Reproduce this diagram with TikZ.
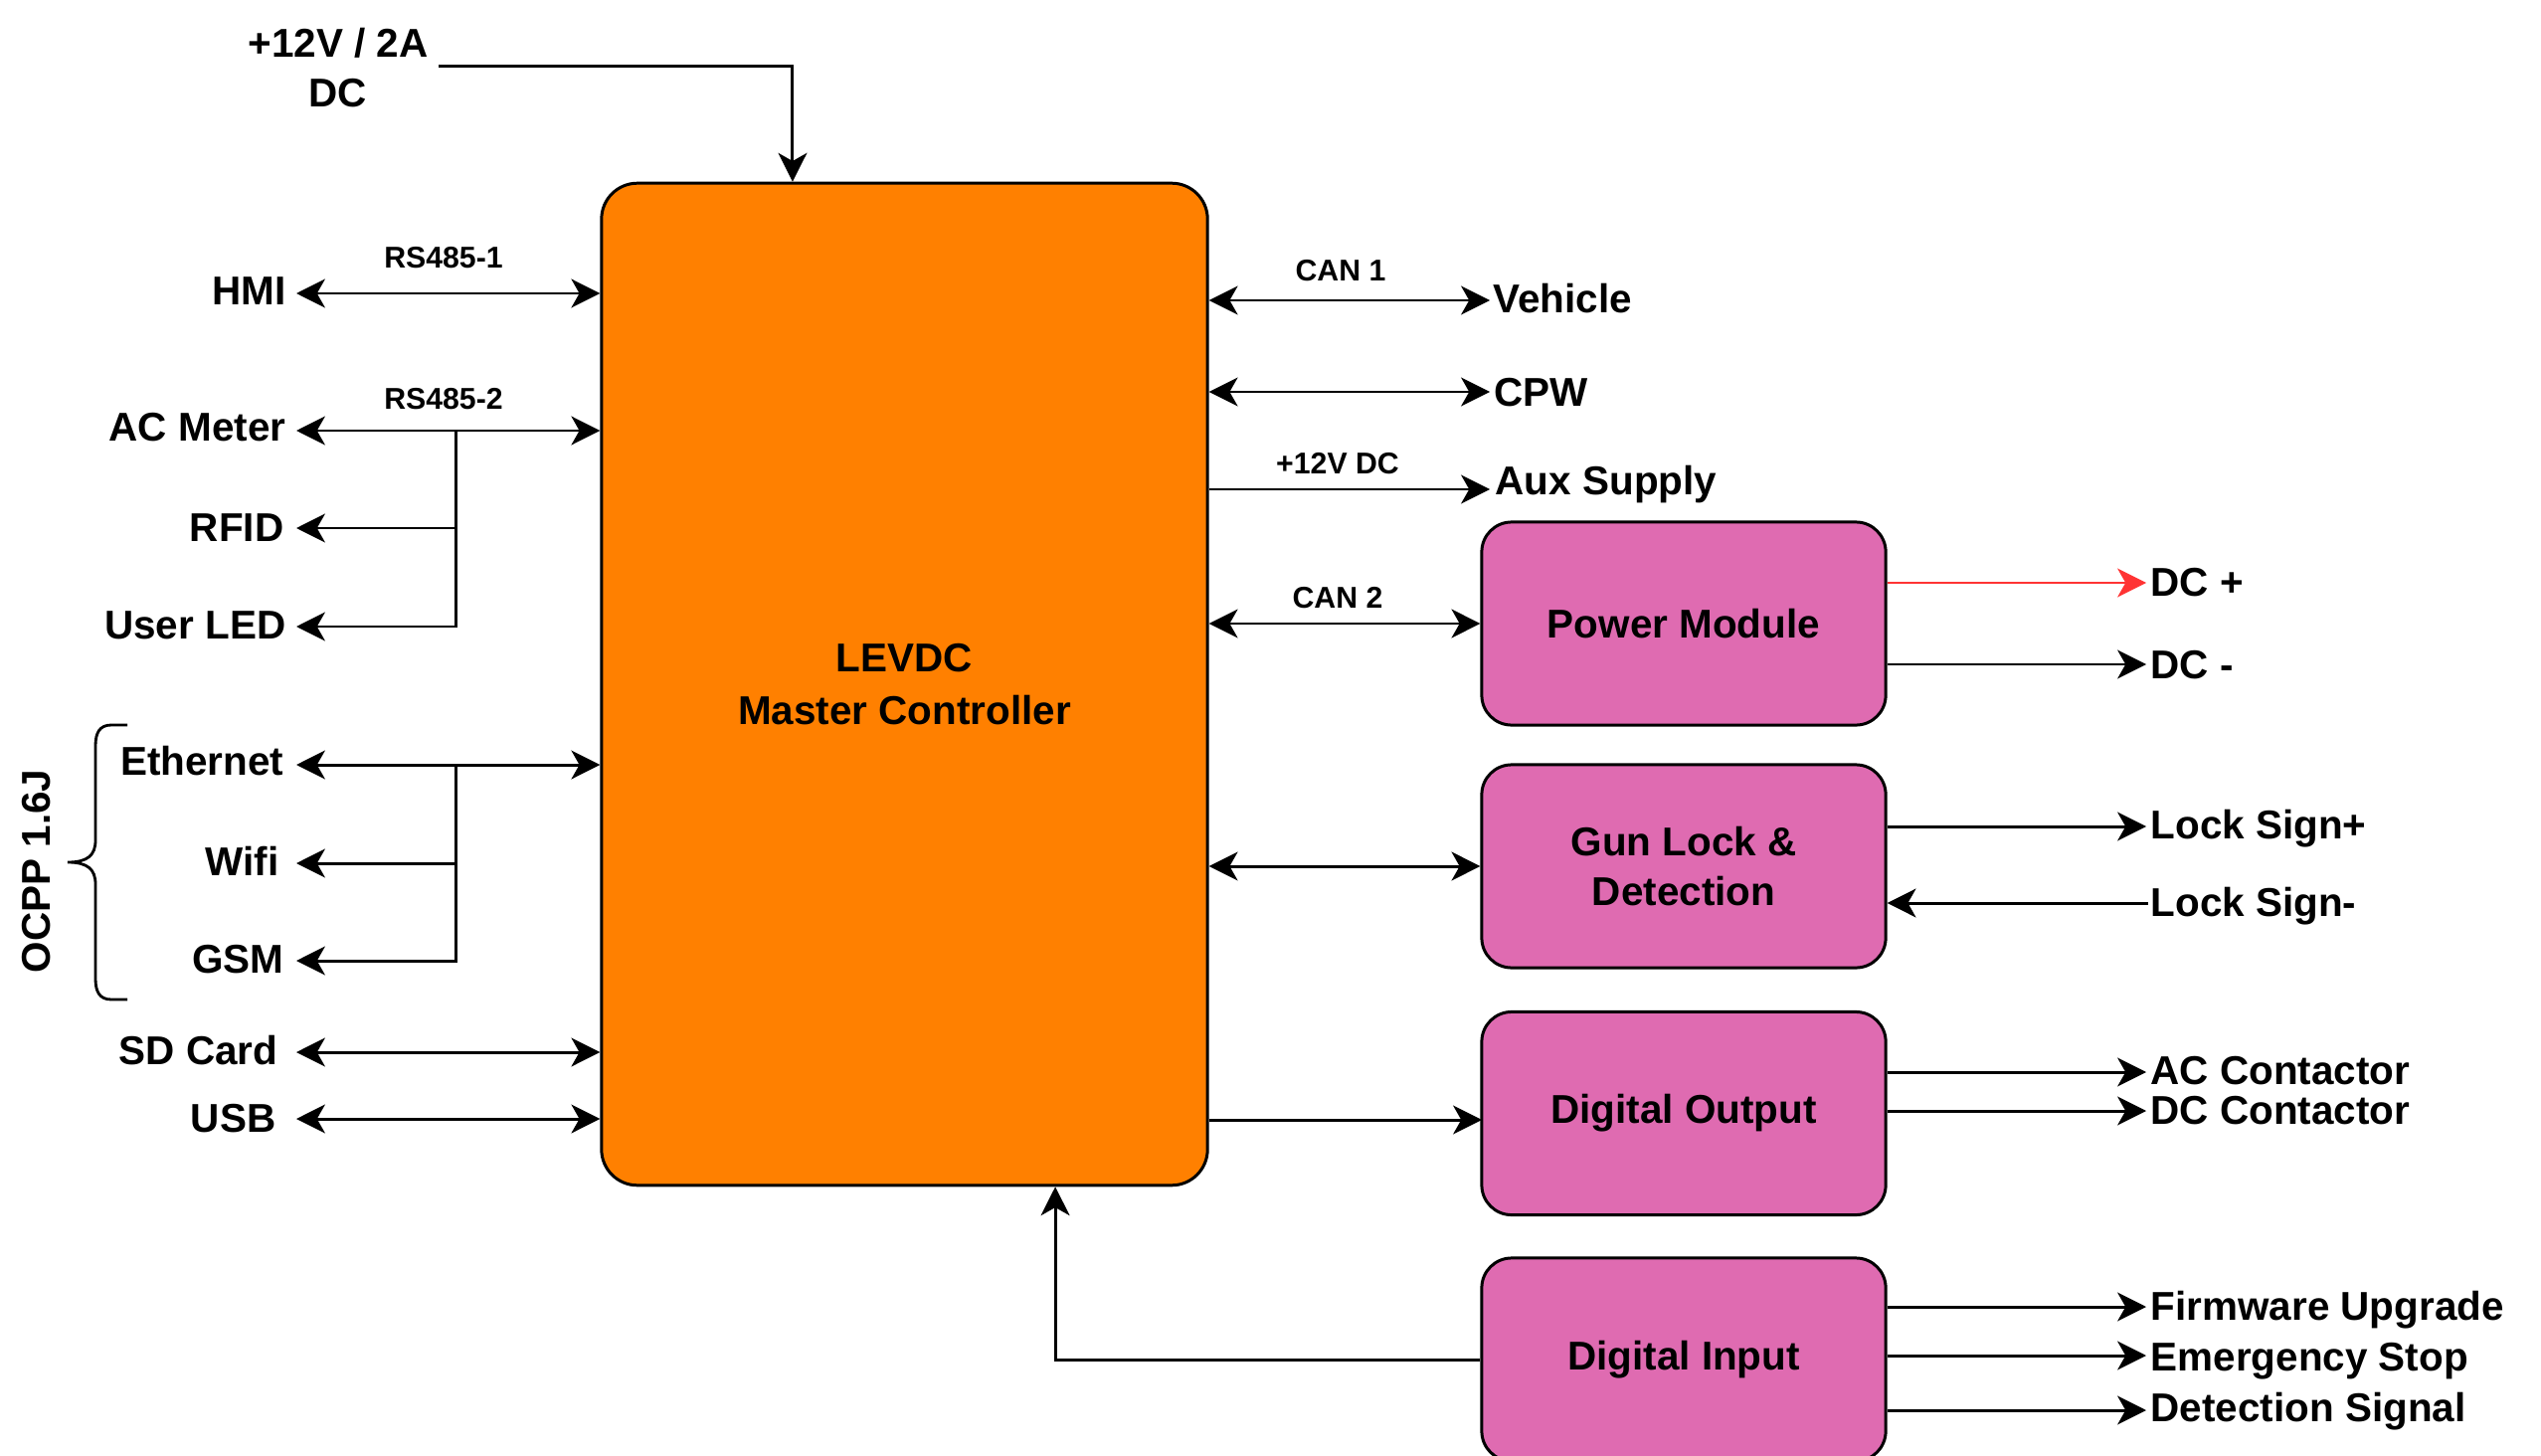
\documentclass[tikz,border=0pt]{standalone}
\usepackage{fontspec}
\setmainfont{Liberation Sans}
\usetikzlibrary{arrows.meta}

\definecolor{ctrlorange}{HTML}{FF8000}
\definecolor{modpink}{HTML}{DF6BB1}
\definecolor{dcred}{HTML}{FF3333}

\newcommand\lblfont{\fontsize{11.5}{14.2}\selectfont\bfseries}
\newcommand\ctrlfont{\fontsize{11.5}{15.1}\selectfont\bfseries}
\newcommand\tinyfont{\fontsize{8.6}{10}\selectfont\bfseries}

\begin{document}
\begin{tikzpicture}[x=0.01cm, y=-0.01cm,
  >={Stealth[length=8.2pt,width=8.2pt,inset=2.3pt]},
  wire/.style={line width=0.85pt, draw=black},
  lbl/.style={font=\lblfont, inner sep=0pt, text height=8.2pt, text depth=0pt},
  lbltwo/.style={font=\lblfont, inner sep=0pt, align=center},
  buslbl/.style={font=\tinyfont, inner sep=0pt, text height=6.2pt, text depth=0pt},
  ctrlbox/.style={draw, line width=0.85pt, fill=ctrlorange, rounded corners=0.36cm,
    minimum width=6.09cm, minimum height=10.07cm, align=center, font=\ctrlfont},
  modbox/.style={draw, line width=0.85pt, fill=modpink, rounded corners=0.3cm,
    minimum width=4.06cm, minimum height=2.04cm, align=center, font=\lblfont}
]
\useasboundingbox (0,0) rectangle (2555,1464);
\clip (0,0) rectangle (2555,1464);

% ---------- blocks ----------
\node[ctrlbox] (mc) at (909.5,688) {LEVDC\\Master Controller};
\node[modbox] (pm)   at (1693,627)    {Power Module};
\node[modbox] (gl)   at (1693,871)    {Gun Lock \&\\Detection};
\node[modbox] (dout) at (1693,1119.5) {Digital Output};
\node[modbox] (din)  at (1693,1367)   {Digital Input};

% ---------- supply input ----------
\node[lbltwo] (pwr) at (340,68) {+12V / 2A\\DC};
\coordinate (pwrIn) at (441,67);
\draw[wire,->] (pwrIn) -| ([xshift=-1.125cm]mc.north);

% ---------- left-hand peripherals ----------
\coordinate (hmiE)  at (298,295);
\coordinate (acmE)  at (298,433);
\coordinate (rfidE) at (298,531);
\coordinate (ledE)  at (298,630);
\coordinate (ethE)  at (298,769);
\coordinate (wifiE) at (298,868);
\coordinate (gsmE)  at (298,966);
\coordinate (sdE)   at (298,1058);
\coordinate (usbE)  at (298,1125);
\coordinate (rsbus)  at (458,433);
\coordinate (netbus) at (458,769);

\node[lbl, anchor=east] (hmi)  at (288,292)  {HMI};
\node[lbl, anchor=east] (acm)  at (288,429)  {AC Meter};
\node[lbl, anchor=east] (rfid) at (286,530)  {RFID};
\node[lbl, anchor=east] (led)  at (288,628)  {User LED};
\node[lbl, anchor=east] (eth)  at (286,765)  {Ethernet};
\node[lbl, anchor=east] (wifi) at (281,866)  {Wifi};
\node[lbl, anchor=east] (gsm)  at (286,964)  {GSM};
\node[lbl, anchor=east] (sd)   at (280,1056) {SD Card};
\node[lbl, anchor=east] (usb)  at (278,1124) {USB};

\node[buslbl] (rs1) at (446,259) {RS485-1};
\node[buslbl] (rs2) at (446,401) {RS485-2};

\draw[wire,<->] (hmiE) -- (hmiE -| mc.west);
\draw[wire,<->] (acmE) -- (acmE -| mc.west);
\draw[wire,->] (rsbus) |- (rfidE);
\draw[wire,->] (rsbus) |- (ledE);
\draw[wire,<->] (ethE) -- (ethE -| mc.west);
\draw[wire,->] (netbus) |- (wifiE);
\draw[wire,->] (netbus) |- (gsmE);
\draw[wire,<->] (sdE) -- (sdE -| mc.west);
\draw[wire,<->] (usbE) -- (usbE -| mc.west);

% OCPP group brace
\draw[line width=0.8pt] (128,729) -- (112,729)
  .. controls (100,729) and (96,737) .. (96,750) -- (96,845)
  .. controls (96,860) and (88,867) .. (68,867)
  .. controls (88,867) and (96,874) .. (96,889) -- (96,984)
  .. controls (96,997) and (100,1005) .. (112,1005) -- (128,1005);
\node[lbl, rotate=90] (ocpp) at (36,876) {OCPP 1.6J};

% ---------- right-hand links from the controller ----------
\coordinate (vehE) at (1498,302);
\coordinate (cpwE) at (1498,394);
\coordinate (auxE) at (1498,492);
\coordinate (doIn) at (1490,1126);

\node[lbl, anchor=west] (veh) at (1501,300) {Vehicle};
\node[lbl, anchor=west] (cpw) at (1502,394) {CPW};
\node[lbl, anchor=west] (aux) at (1503,483) {Aux Supply};

\node[buslbl] (can1) at (1348,272) {CAN 1};
\node[buslbl] (v12)  at (1345,466) {+12V DC};
\node[buslbl] (can2) at (1345,601) {CAN 2};

\draw[wire,<->] (mc.east |- vehE) -- (vehE);
\draw[wire,<->] (mc.east |- cpwE) -- (cpwE);
\draw[wire,->] (mc.east |- auxE) -- (auxE);
\draw[wire,<->] (mc.east |- pm.west) -- (pm.west);
\draw[wire,<->] (mc.east |- gl.west) -- (gl.west);
\draw[wire,->] (mc.east |- doIn) -- (doIn);
\draw[wire,->] (din.west) -| ([xshift=1.515cm]mc.south);

% ---------- module outputs ----------
\coordinate (dcpE) at (2158,586);
\coordinate (dcmE) at (2158,668);
\coordinate (lspE) at (2158,831);
\coordinate (lsmS) at (2160,908);
\coordinate (acE)  at (2158,1078);
\coordinate (dccE) at (2158,1117);
\coordinate (fwE)  at (2158,1314);
\coordinate (esE)  at (2158,1363);
\coordinate (dsE)  at (2158,1418);

\node[lbl, anchor=west] (dcp) at (2162,585)  {DC +};
\node[lbl, anchor=west] (dcm) at (2162,668)  {DC -};
\node[lbl, anchor=west] (lsp) at (2162,829)  {Lock Sign+};
\node[lbl, anchor=west] (lsm) at (2162,907)  {Lock Sign-};
\node[lbl, anchor=west] (acc) at (2162,1076) {AC Contactor};
\node[lbl, anchor=west] (dcc) at (2162,1116) {DC Contactor};
\node[lbl, anchor=west] (fw)  at (2162,1313) {Firmware Upgrade};
\node[lbl, anchor=west] (es)  at (2162,1364) {Emergency Stop};
\node[lbl, anchor=west] (ds)  at (2162,1415) {Detection Signal};

\draw[wire,draw=dcred,->] (pm.east |- dcpE) -- (dcpE);
\draw[wire,->] (pm.east |- dcmE) -- (dcmE);
\draw[wire,->] (gl.east |- lspE) -- (lspE);
\draw[wire,->] (lsmS) -- (gl.east |- lsmS);
\draw[wire,->] (dout.east |- acE) -- (acE);
\draw[wire,->] (dout.east |- dccE) -- (dccE);
\draw[wire,->] (din.east |- fwE) -- (fwE);
\draw[wire,->] (din.east |- esE) -- (esE);
\draw[wire,->] (din.east |- dsE) -- (dsE);
\end{tikzpicture}
\end{document}
